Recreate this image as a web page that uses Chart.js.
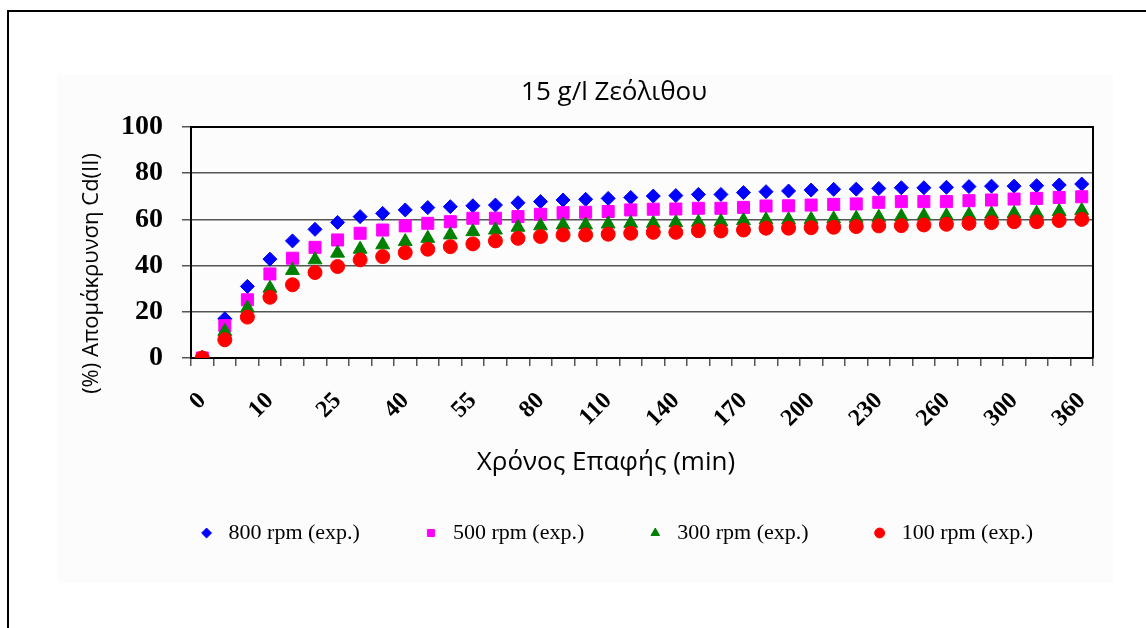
<!DOCTYPE html>
<html>
<head>
<meta charset="utf-8">
<title>15 g/l Ζεόλιθου</title>
<script src="https://cdn.jsdelivr.net/npm/chart.js@4"></script>
<style>
  body { margin: 0; background: #fff; width: 1146px; height: 628px; overflow: hidden; position: relative; }
  #frame { position: absolute; left: 7px; top: 10px; width: 1200px; height: 700px; border-left: 2px solid #000; border-top: 2px solid #000; }
  #box { position: absolute; left: 57px; top: 75px; width: 1056px; height: 508px; background: #fcfcfc; }
</style>
</head>
<body>
<div id="frame"></div>
<div id="box"><canvas id="cdChart"></canvas></div>
<script>
// contact time (min)
const times = [0, 2, 5, 10, 15, 20, 25, 30, 35, 40, 45, 50, 55, 60, 70, 80, 90, 100, 110, 120,
               130, 140, 150, 160, 170, 180, 190, 200, 210, 220, 230, 240, 250, 260, 270, 285, 300, 320, 340, 360];

// % Cd(II) removal per stirring speed
const rpm800 = [0, 17, 31, 42.8, 50.7, 55.7, 58.7, 61.2, 62.6, 64.1, 65.1, 65.5, 65.9, 66.2, 67.2, 67.7, 68.4, 68.7, 69.1, 69.5,
                70.1, 70.3, 70.8, 70.8, 71.6, 72, 72.3, 72.7, 73, 73.1, 73.4, 73.7, 73.7, 73.9, 74.2, 74.4, 74.4, 74.6, 74.9, 75.3];
const rpm500 = [0, 14, 25.2, 36.4, 43.2, 47.9, 51.1, 54, 55.4, 57.2, 58.3, 59, 60.5, 60.5, 61.2, 62.2, 62.9, 63.1, 63.4, 64.1,
                64.4, 64.5, 64.8, 64.8, 65.2, 65.8, 65.9, 66.2, 66.5, 66.7, 67.4, 67.7, 67.7, 67.7, 68.1, 68.4, 68.8, 69.1, 69.5, 69.8];
const rpm300 = [0, 11.5, 21.6, 30.2, 37.9, 42.5, 45.4, 47.1, 49, 50.4, 51.8, 53.3, 54.7, 55.4, 56.6, 57.2, 57.6, 57.6, 58, 58.3,
                58.3, 58.6, 58.7, 59, 59.5, 59.8, 59.8, 60, 60.2, 60.5, 60.9, 61.2, 61.5, 61.5, 61.9, 62.3, 62.6, 62.6, 63.4, 63.8];
const rpm100 = [0, 7.9, 17.7, 26.3, 31.7, 37, 39.6, 42.5, 43.9, 45.6, 47.1, 48.2, 49.4, 50.7, 51.8, 52.6, 53.3, 53.3, 53.6, 54,
                54.4, 54.4, 55.1, 55, 55.4, 56.2, 56.2, 56.4, 56.6, 56.9, 57.2, 57.3, 57.6, 57.9, 58.3, 58.6, 59, 59, 59.5, 60];

const seriesNames = ["800 rpm (exp.)", "500 rpm (exp.)", "300 rpm (exp.)", "100 rpm (exp.)"];
const chartTitle = "15 g/l Ζεόλιθου";
const xTitle = "Χρόνος Επαφής (min)";
const yTitle = "(%) Απομάκρυνση Cd(II)";

// plot frame: top and right edges of the plot area
const plotFrame = {
    id: "plotFrame",
    beforeDatasetsDraw(chart) {
        const { ctx, chartArea: a } = chart;
        ctx.save();
        ctx.strokeStyle = "#000";
        ctx.lineWidth = 2;
        ctx.beginPath();
        ctx.moveTo(a.left, a.top);
        ctx.lineTo(a.right, a.top);
        ctx.lineTo(a.right, a.bottom);
        ctx.stroke();
        ctx.restore();
    }
};

// chart title + axis titles
const titles = {
    id: "titles",
    afterDraw(chart) {
        const { ctx, chartArea: a } = chart;
        ctx.save();
        ctx.fillStyle = "#000";
        ctx.textAlign = "center";
        ctx.textBaseline = "middle";
        ctx.font = '26px "Open Sans"';
        ctx.fillText(chartTitle, a.left + a.width * 0.469, 18);
        ctx.fillText(xTitle, a.left + a.width * 0.46, a.bottom + 105);
        ctx.font = '22px "Open Sans"';
        ctx.translate(35, (a.top + a.bottom) / 2 + 31);
        ctx.rotate(-Math.PI / 2);
        ctx.fillText(yTitle, 0, 0);
        ctx.restore();
    }
};

function makeSet(label, data, color, style, radius) {
    return {
        label: label,
        data: data,
        showLine: false,
        pointStyle: style,
        pointRadius: radius,
        pointBackgroundColor: color,
        pointBorderColor: color,
        pointBorderWidth: 1,
        backgroundColor: color,
        borderColor: color
    };
}

const ctx = document.getElementById("cdChart").getContext("2d");
new Chart(ctx, {
    type: "line",
    data: {
        labels: times,
        datasets: [
            makeSet(seriesNames[0], rpm800, "#0000ff", "rectRot", 7),
            makeSet(seriesNames[1], rpm500, "#ff00ff", "rect", 8.5),
            makeSet(seriesNames[2], rpm300, "#008000", "triangle", 8),
            makeSet(seriesNames[3], rpm100, "#ff0000", "circle", 7)
        ].map((d, i) => Object.assign(d, { order: 4 - i }))
    },
    options: {
        responsive: true,
        maintainAspectRatio: false,
        animation: false,
        layout: { padding: { left: 0, right: 20, top: 52, bottom: 29 } },
        plugins: {
            tooltip: { enabled: false },
            title: { display: false },
            legend: {
                position: "bottom",
                align: "end",
                labels: {
                    usePointStyle: true,
                    boxHeight: 7,
                    padding: 60,
                    color: "#000",
                    font: { family: '"Liberation Serif"', size: 22 },
                    sort: (a, b) => a.datasetIndex - b.datasetIndex
                }
            }
        },
        scales: {
            x: {
                type: "category",
                offset: true,
                afterFit: scale => {
                    scale.height = 104;
                    scale.paddingLeft = 0;
                    scale.paddingRight = 0;
                },
                grid: {
                    offset: true,
                    drawOnChartArea: false,
                    drawTicks: true,
                    tickLength: 8,
                    color: "#555",
                    lineWidth: 1.5
                },
                border: { color: "#000", width: 2 },
                ticks: {
                    autoSkip: false,
                    minRotation: 45,
                    maxRotation: 45,
                    padding: 21,
                    color: "#000",
                    font: { family: '"Liberation Serif"', size: 24, weight: "bold" },
                    callback: function (val, i) { return i % 3 === 0 ? this.getLabelForValue(val) : ""; }
                }
            },
            y: {
                min: 0,
                max: 100,
                afterFit: scale => { scale.width = 134; },
                grid: {
                    color: "#555",
                    lineWidth: 1.5,
                    tickLength: 9
                },
                border: { color: "#000", width: 2 },
                ticks: {
                    stepSize: 20,
                    autoSkip: false,
                    padding: 19,
                    color: "#000",
                    font: { family: '"Liberation Serif"', size: 28, weight: "bold" }
                }
            }
        }
    },
    plugins: [plotFrame, titles]
});
</script>
</body>
</html>
